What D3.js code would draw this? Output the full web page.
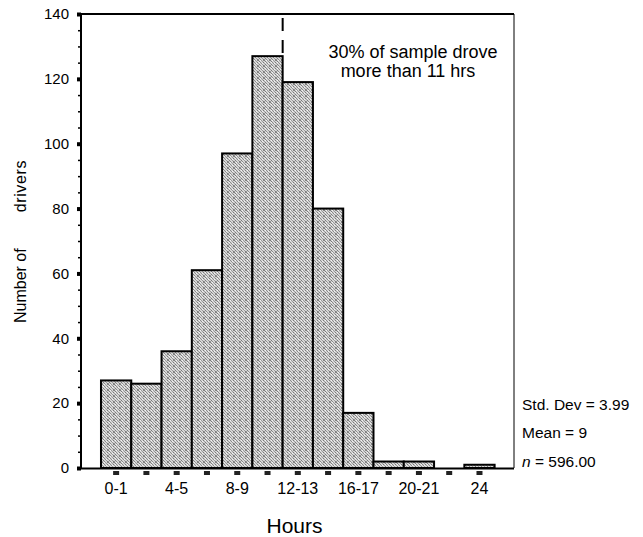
<!DOCTYPE html>
<html>
<head>
<meta charset="utf-8">
<script src="https://cdn.jsdelivr.net/npm/d3@7"></script>
<style>
  html, body { margin: 0; padding: 0; background: #fff; }
  svg { display: block; font-family: "Liberation Sans", Arial, sans-serif; }
</style>
</head>
<body>
<svg id="chart" width="643" height="537"></svg>
<script>
// ---- data ----
const categories = ["0-1","2-3","4-5","6-7","8-9","10-11","12-13","14-15","16-17","18-19","20-21","22-23","24"];
const counts     = [27, 26, 36, 61, 97, 127, 119, 80, 17, 2, 2, 0, 1];
const shownLabels = ["0-1","4-5","8-9","12-13","16-17","20-21","24"];
const yMajorTicks = [0, 20, 40, 60, 80, 100, 120, 140];
const stats = ["Std. Dev = 3.99", "Mean = 9", "596.00"];
const annotation = ["30% of sample drove", "more than 11 hrs"];
const cutoffBin = 6; // boundary at 11 hrs (start of 12-13 bin)

(function () {
const svg = d3.select("#chart");
const pL = 81, pR = 514, pT = 14, pB = 468;

const x = d3.scaleLinear().domain([-0.66, categories.length + 0.64]).range([pL, pR]);
const y = d3.scaleLinear().domain([0, 140]).range([pB, pT]);

// stipple pattern (fixed dot layout)
const defs = svg.append("defs");
const pat = defs.append("pattern").attr("id", "stip").attr("patternUnits", "userSpaceOnUse")
  .attr("width", 6).attr("height", 6);
pat.append("rect").attr("width", 6).attr("height", 6).attr("fill", "#d6d6d6");
const dots = [[0,0],[3,0],[5,0],[1,1],[4,1],[2,2],[5,2],[0,3],[3,3],[1,4],[4,4],[2,5],[5,5],[0,5]];
dots.forEach(([dx, dy], k) => {
  pat.append("rect").attr("x", dx).attr("y", dy).attr("width", 1).attr("height", 1)
    .attr("fill", k % 3 === 0 ? "#7a7a7a" : (k % 3 === 1 ? "#9a9a9a" : "#8a8a8a"));
});
pat.append("rect").attr("x", 2).attr("y", 0).attr("width", 1).attr("height", 1).attr("fill", "#f2f2f2");
pat.append("rect").attr("x", 4).attr("y", 3).attr("width", 1).attr("height", 1).attr("fill", "#f2f2f2");
pat.append("rect").attr("x", 1).attr("y", 2).attr("width", 1).attr("height", 1).attr("fill", "#f2f2f2");

// frame (top and right)
svg.append("line").attr("x1", pL).attr("x2", pR).attr("y1", pT).attr("y2", pT)
  .attr("stroke", "#000").attr("stroke-width", 2);
svg.append("line").attr("x1", pR).attr("x2", pR).attr("y1", pT).attr("y2", pB)
  .attr("stroke", "#000").attr("stroke-width", 1);

// bars
svg.append("g").selectAll("rect").data(counts).join("rect")
  .attr("x", (d, i) => x(i))
  .attr("width", (d, i) => x(i + 1) - x(i))
  .attr("y", d => y(d))
  .attr("height", d => pB - y(d))
  .attr("fill", "url(#stip)")
  .attr("stroke", d => d > 0 ? "#000" : "none")
  .attr("stroke-width", 2);

// dashed cutoff line
svg.append("line")
  .attr("x1", x(cutoffBin)).attr("x2", x(cutoffBin))
  .attr("y1", pT + 4).attr("y2", y(counts[cutoffBin - 1]))
  .attr("stroke", "#000").attr("stroke-width", 2)
  .attr("stroke-dasharray", "13,9");

// y axis: minor ticks
const minor = d3.range(0, 141, 5).filter(v => v % 20 !== 0);
const yMinor = svg.append("g").attr("transform", `translate(${pL},0)`)
  .call(d3.axisLeft(y).tickValues(minor).tickSize(3).tickFormat(""));
yMinor.select(".domain").remove();
yMinor.selectAll("line").attr("stroke-width", 1.5);

const yMajor = svg.append("g").attr("transform", `translate(${pL},0)`)
  .call(d3.axisLeft(y).tickValues(yMajorTicks).tickSize(4).tickPadding(8).tickFormat(d3.format("d")));
yMajor.select(".domain").attr("d", `M0,${pT}V${pB}`).attr("stroke-width", 2);
yMajor.selectAll(".tick line").attr("stroke-width", 4);
yMajor.selectAll(".tick text").attr("font-size", 15).attr("fill", "#000")
  .attr("font-family", "Liberation Sans, Arial, sans-serif");

// x axis baseline
svg.append("line").attr("x1", pL - 3).attr("x2", pR).attr("y1", pB + 0.5).attr("y2", pB + 0.5)
  .attr("stroke", "#000").attr("stroke-width", 2);

// x tick markers and labels
const xc = i => (x(i) + x(i + 1)) / 2;
svg.append("g").selectAll("rect").data(categories).join("rect")
  .attr("x", (d, i) => xc(i) - 3).attr("y", pB + 3).attr("width", 6).attr("height", 4)
  .attr("fill", "#222");
svg.append("g").selectAll("text").data(categories.map((c, i) => ({c, i})).filter(o => shownLabels.includes(o.c)))
  .join("text")
  .attr("x", o => xc(o.i)).attr("y", pB + 26)
  .attr("text-anchor", "middle").attr("font-size", 16).attr("fill", "#000")
  .text(o => o.c);

// axis titles
svg.append("text").attr("x", (pL + pR) / 2 - 3).attr("y", 533)
  .attr("text-anchor", "middle").attr("font-size", 21).text("Hours");
svg.append("text").attr("transform", "translate(26,323) rotate(-90)")
  .attr("text-anchor", "start").attr("font-size", 16).text("Number of");
svg.append("text").attr("transform", "translate(26,160) rotate(-90)")
  .attr("text-anchor", "end").attr("font-size", 16).attr("letter-spacing", 0.6).text("drivers");

// annotation
svg.append("text").attr("x", 413).attr("y", 58).attr("text-anchor", "middle")
  .attr("font-size", 18).text(annotation[0]);
svg.append("text").attr("x", 408).attr("y", 77).attr("text-anchor", "middle")
  .attr("font-size", 18).text(annotation[1]);

// stats
svg.append("text").attr("x", 522).attr("y", 410).attr("font-size", 15.5).text(stats[0]);
svg.append("text").attr("x", 522).attr("y", 438).attr("font-size", 15.5).text(stats[1]);
const nt = svg.append("text").attr("x", 522).attr("y", 467).attr("font-size", 15.5);
nt.append("tspan").attr("font-style", "italic").text("n");
nt.append("tspan").text(" = " + stats[2]);
})();
</script>
</body>
</html>
